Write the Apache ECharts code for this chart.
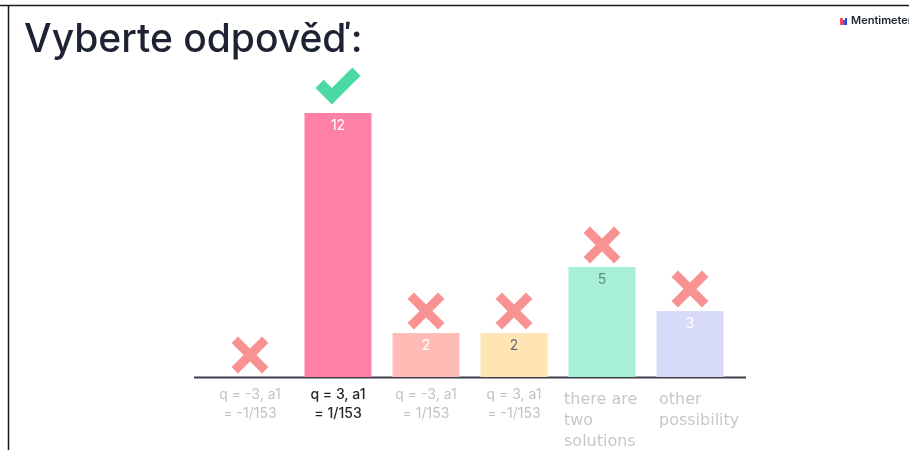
<!DOCTYPE html>
<html>
<head>
<meta charset="utf-8">
<script src="https://cdn.jsdelivr.net/npm/echarts@6/dist/echarts.min.js"></script>
<style>
  html, body { margin: 0; padding: 0; background: #fff; }
  #chart { width: 909px; height: 450px; }
</style>
</head>
<body>
<div id="chart"></div>
<script>
const categories = [
  'q = -3, a1\n= -1/153',
  'q = 3, a1\n= 1/153',
  'q = -3, a1\n= 1/153',
  'q = 3, a1\n= -1/153',
  'there are\ntwo\nsolutions',
  'other\npossibility'
]
const votes = [0, 12, 2, 2, 5, 3]
const correct = [false, true, false, false, false, false]
const barColors = ['#ff80a6', '#ff80a6', '#ffbcb6', '#ffe5b4', '#a7f0d6', '#d8dbf8']
const valueLabelColors = ['#ffffff', '#ffffff', '#ffffff', '#6b6b6b', '#5f8f7c', '#ffffff']

const crossPath = 'path://M0,7 L7,0 L20,13 L33,0 L40,7 L27,20 L40,33 L33,40 L20,27 L7,40 L0,33 L13,20 Z'
const checkPath = 'path://M0,20 L8,12 L16,20 L36,0 L44,8 L16,36 Z'

const chart = echarts.init(document.getElementById('chart'))

const labelRich = {
  dim: { color: '#c2c2c2', fontSize: 14, lineHeight: 19, fontFamily: 'Inter', align: 'center' },
  dark: { color: '#262626', fontSize: 14, lineHeight: 19, fontFamily: 'Inter', fontWeight: 500, align: 'center' },
  gap: { fontSize: 1, lineHeight: 4 },
  wide: { color: '#c8c8c8', fontSize: 16, lineHeight: 21, fontFamily: 'DejaVu Sans', width: 76, align: 'left' },
  narrow: { color: '#c8c8c8', fontSize: 16, lineHeight: 21, fontFamily: 'DejaVu Sans', width: 62, align: 'left' }
}

chart.setOption({
  animation: false,
  backgroundColor: '#ffffff',
  grid: { left: 206, right: 175, top: 113, bottom: 73 },
  xAxis: {
    type: 'category',
    data: categories,
    axisLine: { show: false },
    axisTick: { show: false },
    axisLabel: {
      interval: 0,
      margin: 8,
      formatter: (value, index) => {
        const style = index === 1 ? 'dark' : index === 4 ? 'wide' : index === 5 ? 'narrow' : 'dim'
        const lines = value.split('\n').map(line => `{${style}|${line}}`)
        if (style === 'wide' || style === 'narrow') lines.unshift('{gap| }')
        return lines.join('\n')
      },
      rich: labelRich
    }
  },
  yAxis: {
    type: 'value',
    min: 0,
    max: 12,
    show: false,
    splitLine: { show: false }
  },
  series: [
    {
      type: 'bar',
      barWidth: 67,
      data: votes.map((v, i) => ({
        value: v,
        itemStyle: { color: barColors[i] },
        label: { color: valueLabelColors[i] }
      })),
      label: {
        show: true,
        position: 'insideTop',
        distance: 6,
        fontSize: 14,
        fontFamily: 'Inter',
        formatter: p => (p.value > 0 ? p.value : '')
      }
    },
    {
      type: 'scatter',
      z: 5,
      data: votes.map((v, i) => ({
        value: v,
        symbol: correct[i] ? checkPath : crossPath,
        symbolSize: correct[i] ? [45, 37] : [37, 37],
        symbolOffset: correct[i] ? [0, -27] : [0, -22],
        itemStyle: { color: correct[i] ? '#1fcf8c' : '#f87878' }
      }))
    }
  ],
  graphic: [
    { type: 'line', shape: { x1: 0, y1: 5.5, x2: 909, y2: 5.5 }, style: { stroke: '#1a1a1a', lineWidth: 1.5 } },
    { type: 'line', shape: { x1: 8.5, y1: 5, x2: 8.5, y2: 450 }, style: { stroke: '#1a1a1a', lineWidth: 1.5 } },
    { type: 'line', shape: { x1: 194, y1: 377.5, x2: 746, y2: 377.5 }, style: { stroke: '#3a3f4a', lineWidth: 2 } },
    {
      type: 'text', left: 24, top: 21,
      style: { text: 'Vyberte odpověď:', fill: '#1d2333', font: '500 39px Inter' }
    },
    { type: 'rect', shape: { x: 840, y: 18, width: 3, height: 7 }, style: { fill: '#f2505a' } },
    { type: 'rect', shape: { x: 843, y: 20, width: 2, height: 5 }, style: { fill: '#4a5ce8' } },
    { type: 'rect', shape: { x: 845, y: 18, width: 2, height: 7 }, style: { fill: '#2f3fd6' } },
    {
      type: 'text', left: 851, top: 15,
      style: { text: 'Mentimeter', fill: '#1d2333', font: '600 11px Inter' }
    }
  ]
})
</script>
</body>
</html>
